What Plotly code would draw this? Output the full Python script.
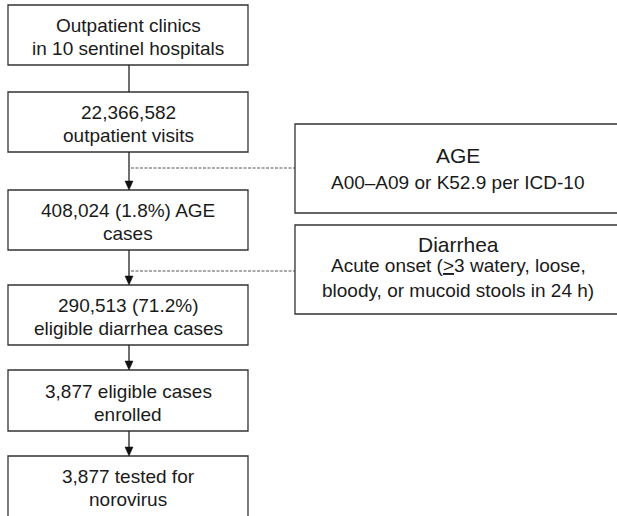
import plotly.graph_objects as go

# flowchart content
step_lines = [
    ["Outpatient clinics", "in 10 sentinel hospitals"],
    ["22,366,582", "outpatient visits"],
    ["408,024 (1.8%) AGE", "cases"],
    ["290,513 (71.2%)", "eligible diarrhea cases"],
    ["3,877 eligible cases", "enrolled"],
    ["3,877 tested for", "norovirus"],
]
def_titles = ["AGE", "Diarrhea"]
def_lines = [
    ["A00\u2013A09 or K52.9 per ICD-10"],
    ["Acute onset (<u>></u>3 watery, loose,", "bloody, or mucoid stools in 24 h)"],
]

# layout in pixels (page is 617 x 516)
W, H = 617, 516
left_x0, left_x1 = 8, 248
cx = 129
box_tops = [5, 92, 190, 285, 370, 456]
box_bots = [65, 152, 250, 345, 431, 518]
arrow_heads = [False, True, True, True, True]
right_x0, right_x1 = 295, 622
right_tops = [124, 225]
right_bots = [213, 314]
dash_y = [168, 271]
rcx = 458

font = "Liberation Sans, Arial, sans-serif"
ink = "#1a1a1a"
box_line = dict(color="#333333", width=1.3)

fig = go.Figure()
shapes = []
annotations = []

for i, lines in enumerate(step_lines):
    shapes.append(dict(type="rect", x0=left_x0, x1=left_x1, y0=box_tops[i], y1=box_bots[i],
                       line=box_line, fillcolor="white", layer="above"))
    mid = (box_tops[i] + min(box_bots[i], 516)) / 2 + 2
    if i == len(step_lines) - 1:
        mid = 488
    for k, t in enumerate(lines):
        y = mid + (k - (len(lines) - 1) / 2) * 23
        annotations.append(dict(x=cx - 1, y=y, text=t, showarrow=False, xanchor="center",
                                yanchor="middle", font=dict(family=font, size=19, color=ink)))

# connectors between the left boxes
for i, head in enumerate(arrow_heads):
    y0 = box_bots[i]
    y1 = box_tops[i + 1]
    shapes.append(dict(type="line", x0=cx, x1=cx, y0=y0, y1=y1 - (8 if head else 0),
                       line=dict(color="#222222", width=1.3)))
    if head:
        shapes.append(dict(type="path",
                           path=f"M {cx - 4} {y1 - 9} L {cx + 4} {y1 - 9} L {cx} {y1} Z",
                           fillcolor="#111111", line=dict(color="#111111", width=0.5)))

# dashed leaders to the definition boxes
for y in dash_y:
    shapes.append(dict(type="line", x0=cx + 2, x1=right_x0, y0=y, y1=y,
                       line=dict(color="#555555", width=1, dash="3px,1.5px")))

# definition boxes
for j, title in enumerate(def_titles):
    shapes.append(dict(type="rect", x0=right_x0, x1=right_x1, y0=right_tops[j], y1=right_bots[j],
                       line=box_line, fillcolor="white"))
title_y = [155, 244]
sub_y = [[182], [265, 290]]
for j, title in enumerate(def_titles):
    annotations.append(dict(x=rcx, y=title_y[j], text=title, showarrow=False, xanchor="center",
                            yanchor="middle", font=dict(family=font, size=21, color=ink)))
    for k, t in enumerate(def_lines[j]):
        annotations.append(dict(x=rcx, y=sub_y[j][k], text=t, showarrow=False, xanchor="center",
                                yanchor="middle", font=dict(family=font, size=19, color=ink)))

fig.update_layout(
    width=W, height=H,
    margin=dict(l=0, r=0, t=0, b=0),
    paper_bgcolor="white", plot_bgcolor="white",
    xaxis=dict(range=[0, W], visible=False, fixedrange=True),
    yaxis=dict(range=[H, 0], visible=False, fixedrange=True),
    shapes=shapes, annotations=annotations,
    showlegend=False,
)

# drop the browser's default body margin so the figure sits at the page corner
fig.write_html("out.html", config={"displayModeBar": False},
               post_script="document.body.style.margin='0';document.body.style.overflow='hidden';")
